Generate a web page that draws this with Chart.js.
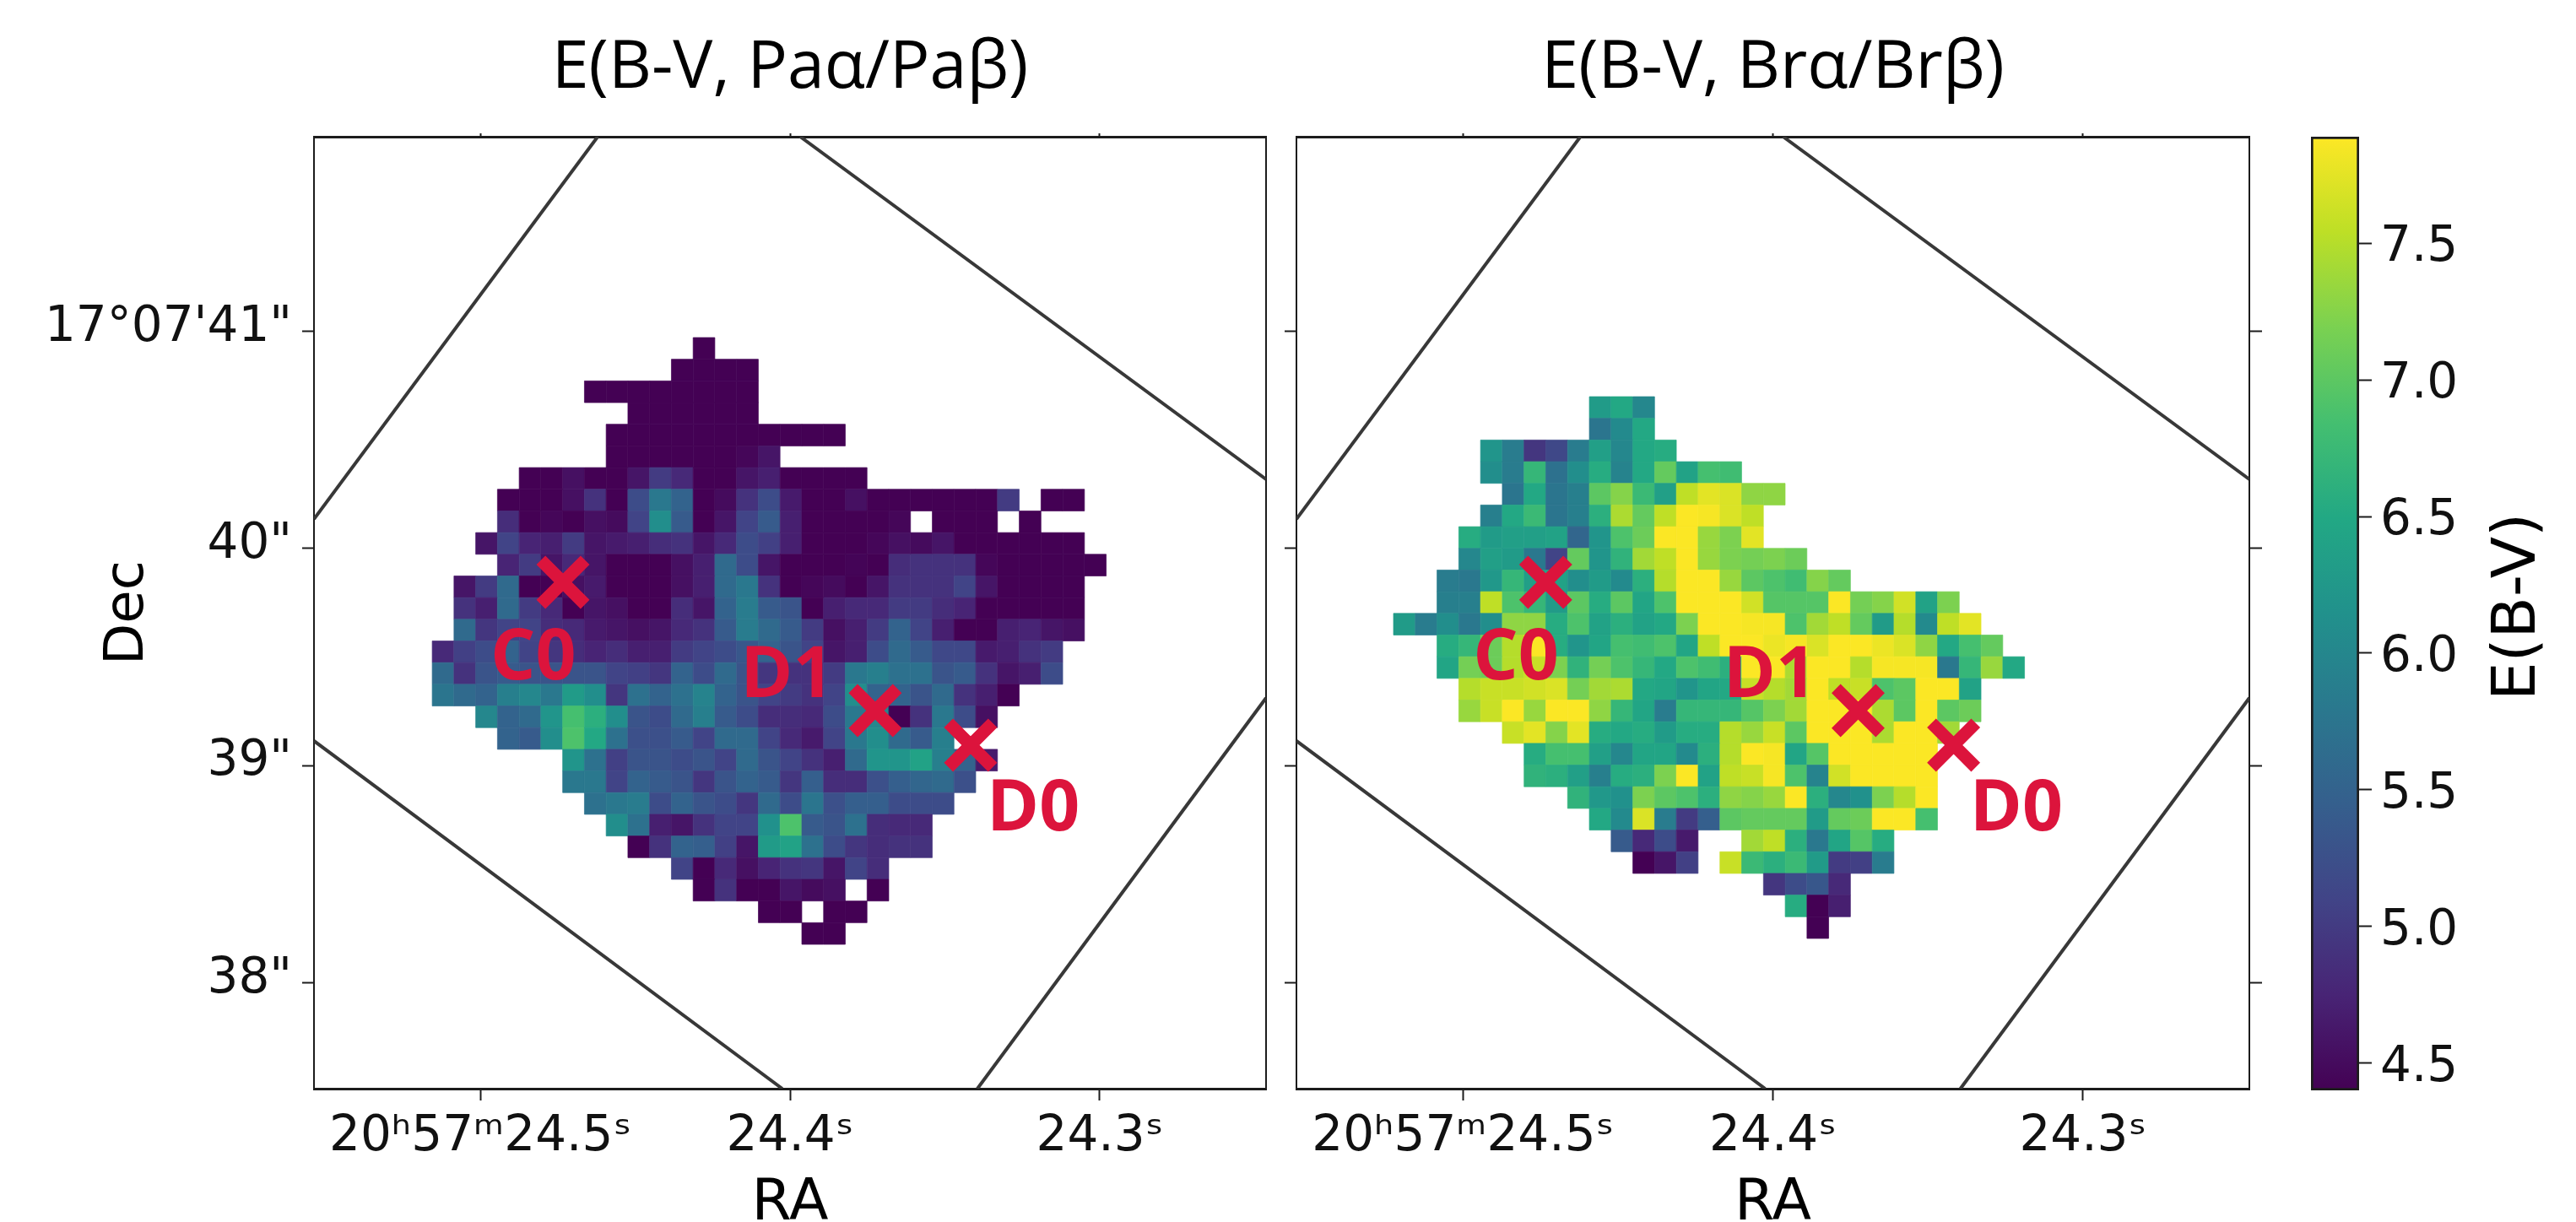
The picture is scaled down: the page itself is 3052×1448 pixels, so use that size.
<!DOCTYPE html>
<html>
<head>
<meta charset="utf-8">
<style>
html,body{margin:0;padding:0;background:#fff;}
#page{position:relative;width:3052px;height:1448px;overflow:hidden;background:#fff;}
canvas{position:absolute;top:0;}
</style>
<script src="https://cdn.jsdelivr.net/npm/chart.js@4/dist/chart.umd.js"></script>
</head>
<body>
<div id="page">
<canvas id="pa" width="1520" height="1448" style="left:0"></canvas>
<canvas id="br" width="1170" height="1448" style="left:1520px"></canvas>
<canvas id="cb" width="352" height="1448" style="left:2700px"></canvas>
</div>
<script>
// ---- axes ----
const raTicks = [24.5, 24.4, 24.3];
const raTickLabels = ['20ʰ57ᵐ24.5ˢ', '24.4ˢ', '24.3ˢ'];
const decTicks = [41, 40, 39, 38];
const decTickLabels = ['17°07\'41"', '40"', '39"', '38"'];
const raRange = [24.2463, 24.5537];
const decRange = [37.5126, 41.8966];
const cbarTicks = [4.5, 5, 5.5, 6, 6.5, 7, 7.5];
const cbarTickLabels = ['4.5', '5.0', '5.5', '6.0', '6.5', '7.0', '7.5'];
const cbarRange = [4.4, 7.89];

// ---- grid of the maps: one pixel on the sky ----
const raStep = 0.00702;
const decStep = 0.0998;
const paOrigin = [24.51553, 40.9716];
const brOrigin = [24.5224, 40.6995];

// ---- E(B-V, Pa alpha / Pa beta): first column of every row, then the row ----
const paStart = [12,11,7,9,8,8,4,3,3,2,3,1,1,1,0,0,0,2,3,6,6,7,8,9,11,12,15,17];
const paRows = [
[4.4],
[4.4,4.4,4.4,4.4],
[4.4,4.4,4.4,4.4,4.4,4.4,4.4,4.4],
[4.4,4.4,4.4,4.4,4.4,4.4],
[4.4,4.4,4.4,4.4,4.4,4.4,4.4,4.4,4.4,4.4,4.4],
[4.4,4.4,4.4,4.4,4.4,4.4,4.45,4.6],
[4.4,4.4,4.55,4.4,4.4,4.6,5.0,4.8,4.4,4.4,4.6,4.7,4.4,4.4,4.4,4.4],
[4.4,4.4,4.4,4.55,4.9,4.4,5.2,5.8,5.5,4.4,4.5,4.9,5.2,4.65,4.4,4.4,4.55,4.4,4.4,4.4,4.4,4.4,4.4,5.0,null,4.4,4.4],
[4.85,4.4,4.45,4.4,4.55,4.5,5.1,6.1,5.4,4.4,4.6,5.1,5.4,4.7,4.4,4.4,4.4,4.4,4.45,null,4.4,4.4,4.4,null,4.4],
[4.6,5.1,4.75,4.7,5.0,4.6,4.65,4.7,4.85,4.9,4.6,4.8,5.2,5.05,4.7,4.4,4.4,4.4,4.45,4.55,4.5,4.6,4.4,4.4,4.4,4.4,4.4,4.4],
[4.75,5.0,4.6,4.8,4.6,4.4,4.4,4.4,4.55,4.7,5.6,5.2,4.6,4.4,4.4,4.4,4.43,4.4,4.85,4.9,4.9,4.9,4.45,4.4,4.4,4.4,4.4,4.4],
[4.6,5.0,5.6,4.4,4.4,4.55,4.65,4.4,4.4,4.4,4.55,4.7,5.6,5.8,4.9,4.4,4.45,4.5,4.4,4.6,4.9,4.9,4.9,5.1,4.6,4.4,4.4,4.4,4.4],
[4.9,4.7,5.6,5.0,4.8,4.4,4.6,4.55,4.4,4.4,4.85,4.6,5.5,5.85,5.4,5.3,4.4,4.7,4.8,4.8,5.0,5.0,4.85,4.75,4.4,4.4,4.4,4.4,4.4],
[5.6,4.95,5.1,5.1,4.85,4.8,4.65,4.6,4.55,4.6,4.8,4.9,5.4,5.85,5.6,5.4,5.0,4.55,4.7,5.0,5.5,5.1,4.7,4.4,4.4,4.7,4.75,4.6,4.55],
[4.8,5.05,5.2,5.5,5.1,4.95,4.85,4.75,4.85,4.7,4.7,5.0,5.1,5.2,5.35,5.5,5.3,5.1,4.6,4.7,5.2,5.6,5.4,5.15,5.15,4.65,4.7,4.9,5.0],
[5.6,4.9,5.3,5.4,5.3,5.3,5.3,5.3,5.1,5.05,4.95,5.5,5.2,5.6,5.3,4.95,4.9,4.9,5.0,5.8,5.9,5.7,5.7,5.3,5.4,4.9,4.6,4.7,5.2],
[5.75,5.6,5.5,5.9,6.0,5.8,6.3,6.1,4.95,5.7,5.5,5.7,5.95,5.5,5.3,5.1,5.0,4.9,5.1,6.1,5.5,5.5,5.3,5.6,4.9,4.7,4.4],
[6.0,5.5,5.6,6.2,6.85,6.6,6.1,5.3,5.2,5.6,5.9,5.4,5.2,4.85,4.85,4.8,5.2,5.8,6.0,4.4,4.9,5.8,5.2,4.55],
[5.5,5.4,6.1,6.9,6.5,5.7,5.25,5.25,5.4,5.1,5.6,5.6,5.1,4.8,4.65,5.1,5.8,6.1,5.6,5.4,5.9],
[6.2,5.7,5.05,5.3,5.3,5.2,5.3,5.1,5.6,5.3,5.1,4.9,4.7,5.6,6.2,6.2,6.4,5.9,5.5,4.65],
[5.8,5.8,5.1,5.5,5.4,5.3,4.95,5.3,5.5,5.4,4.95,5.45,4.85,4.85,5.25,5.45,5.55,5.6,5.25],
[5.7,5.8,5.85,5.2,5.5,5.3,5.2,4.95,5.6,5.2,5.75,5.25,5.45,5.45,5.2,5.2,5.2],
[6.1,5.7,4.7,4.6,4.9,5.1,5.1,6.15,6.9,5.4,5.3,5.7,4.85,4.8,4.8],
[4.4,4.9,5.5,5.45,5.05,4.6,6.3,6.4,5.7,5.2,4.95,4.85,4.9,4.9],
[5.1,4.4,4.8,4.55,4.75,4.9,4.95,4.6,5.1,4.85],
[4.4,4.9,4.4,4.4,4.6,4.5,4.55,null,4.4],
[4.4,4.4,null,4.4,4.4],
[4.4,4.4]
];

// ---- E(B-V, Br alpha / Br beta) ----
const brStart = [9,9,4,4,5,4,3,3,2,2,0,2,2,3,3,5,6,6,8,9,10,11,17,18,19];
const brRows = [
[6.3,6.5,6.0],
[5.75,6.05,6.5],
[6.2,5.85,4.95,5.15,5.85,6.35,6.0,6.5,6.55],
[6.1,5.85,6.7,5.7,6.1,6.55,5.95,6.5,7.05,6.4,6.85,6.8],
[5.75,6.5,5.75,5.9,7.0,7.25,6.75,6.35,7.55,7.75,7.7,7.3,7.3],
[5.9,6.5,6.75,5.75,5.9,6.6,7.45,7.05,7.55,7.88,7.85,7.7,7.55],
[6.55,6.3,6.35,6.35,6.4,5.55,6.2,6.9,7.1,7.88,7.88,7.35,7.2,7.75],
[6.0,6.35,6.3,5.8,5.1,7.05,6.2,6.65,7.4,7.55,7.88,7.35,7.2,7.15,7.2,7.1],
[5.85,5.8,6.25,6.7,6.35,6.4,6.1,6.3,6.05,6.6,7.5,7.88,7.88,7.35,7.0,6.9,6.8,7.25,7.05],
[5.9,5.9,7.55,6.9,6.7,6.3,7.0,6.55,7.0,6.45,6.9,7.88,7.88,7.88,7.65,6.95,6.95,6.95,7.88,7.15,7.25,7.65,6.4,7.2],
[6.3,5.85,6.1,5.8,6.1,7.3,7.3,6.55,6.9,6.4,6.6,6.4,6.5,7.2,7.88,7.88,7.85,7.85,6.9,7.4,7.55,7.05,6.3,7.5,6.05,7.55,7.75],
[6.55,6.7,7.1,7.5,7.88,6.55,6.2,6.45,6.85,6.8,6.9,6.45,7.55,7.88,7.88,7.8,7.85,7.7,7.88,7.88,7.8,7.7,7.3,6.5,6.85,7.05],
[6.45,7.15,7.1,7.5,7.6,7.2,6.65,7.15,6.9,6.7,6.5,6.9,6.8,6.6,7.88,7.88,7.45,7.88,7.88,7.5,7.85,7.85,7.85,5.8,6.7,7.35,6.5],
[7.5,7.6,7.6,7.65,7.7,7.15,7.4,7.45,6.5,6.45,6.2,6.45,6.5,7.6,7.5,7.4,7.88,7.55,7.6,6.9,7.0,7.88,7.88,6.4],
[7.35,7.6,7.88,7.35,7.88,7.88,7.3,6.7,6.45,5.85,6.7,6.7,6.7,6.95,7.2,7.4,7.88,7.88,7.88,7.45,7.0,7.88,7.0,7.1],
[7.6,7.75,7.25,7.75,6.55,6.5,6.55,6.3,6.55,6.55,7.5,7.35,7.6,7.0,7.88,7.88,7.88,7.45,7.88,7.88,7.4],
[6.55,6.85,6.85,6.35,6.0,6.45,6.45,6.05,6.6,7.5,7.88,7.85,6.45,6.95,7.88,7.88,7.88,7.88,7.88],
[6.65,6.6,6.35,5.9,6.55,6.6,7.2,7.88,6.4,7.55,7.6,7.85,6.9,5.95,7.65,7.88,7.88,7.88,7.88],
[6.65,6.25,6.15,7.2,7.0,6.9,6.6,7.3,7.25,7.35,7.88,6.6,6.0,6.15,7.2,7.5,7.88],
[6.5,6.05,7.7,5.85,5.0,5.45,7.0,7.05,7.05,7.05,6.3,7.05,7.1,7.88,7.88,6.85],
[5.4,4.8,5.2,4.65,null,null,7.4,7.55,6.6,5.8,6.45,6.95,6.55],
[4.4,4.6,5.05,null,7.6,6.75,6.6,6.75,6.3,5.0,5.05,5.85],
[4.95,5.2,5.35,4.8],
[6.55,4.4,4.7],
[4.4]
];

// ---- footprint edges of the observation (RA seconds, Dec arcsec) ----
const edgeA = [{x:24.5537,y:40.136},{x:24.4621,y:41.8966}];
const edgeB = [{x:24.3967,y:41.8966},{x:24.2463,y:40.319}];
const edgeC = [{x:24.5537,y:39.114},{x:24.4025,y:37.5126}];
const edgeD = [{x:24.3395,y:37.5126},{x:24.2463,y:39.312}];

// ---- marked sources and their labels ----
const sources = [{x:24.4733,y:39.8446},{x:24.3725,y:39.2538},{x:24.3417,y:39.0945}];
const sourceLabels = ['C0', 'D1', 'D0'];
const sourceLabelPos = [{x:24.4829,y:39.49},{x:24.4010,y:39.41},{x:24.3215,y:38.795}];

const titles = ['E(B-V, Paα/Paβ)', 'E(B-V, Brα/Brβ)'];
const viridis = ['#440154','#482475','#414487','#355f8d','#2a788e','#21918c','#22a884','#44bf70','#7ad151','#bddf26','#fde725'];

const CRIMSON = '#dc143c';
const INK = '#1c1c1c';
const TICK_FONT = {family:'"DejaVu Sans"', size:58};

function hexRgb(h){return [1,3,5].map(i=>parseInt(h.substr(i,2),16));}
function colorFor(v){
  const t = Math.min(1,Math.max(0,(v-cbarRange[0])/(cbarRange[1]-cbarRange[0])))*(viridis.length-1);
  const i = Math.min(viridis.length-2,Math.floor(t)), f = t-i;
  const a = hexRgb(viridis[i]), b = hexRgb(viridis[i+1]);
  return 'rgb('+a.map((c,k)=>Math.round(c+(b[k]-c)*f)).join(',')+')';
}
function cellPoints(starts, rows, origin){
  const pts = [], cols = [];
  rows.forEach((row,r)=>row.forEach((v,i)=>{
    if(v===null) return;
    const c = starts[r]+i;
    pts.push({x:origin[0]-(c+0.5)*raStep, y:origin[1]-(r+0.5)*decStep});
    cols.push(colorFor(v));
  }));
  return {pts, cols};
}
const fixedTicks = (vals)=>(scale)=>{scale.ticks = vals.map(v=>({value:v}));};
const labelFrom = (vals,labs)=>(v)=>{const i = vals.indexOf(v); return i<0?'':labs[i];};
const noMargins = (s)=>{s.paddingLeft=0;s.paddingRight=0;s.paddingTop=0;s.paddingBottom=0;};

const sourceTextPlugin = {
  id:'sourceText',
  afterDatasetsDraw(chart){
    const {ctx, scales:{x,y}} = chart;
    ctx.save();
    ctx.fillStyle = CRIMSON;
    ctx.font = '700 84px "Open Sans"';
    ctx.textAlign = 'center';
    ctx.textBaseline = 'middle';
    sourceLabels.forEach((t,i)=>{
      ctx.fillText(t, x.getPixelForValue(sourceLabelPos[i].x), y.getPixelForValue(sourceLabelPos[i].y));
    });
    ctx.restore();
  }
};

function panel(id, title, starts, rows, origin, withLabels, leftWidth, rightWidth, rightTick){
  const cells = cellPoints(starts, rows, origin);
  const edge = (d)=>({type:'scatter', data:d, showLine:true, borderColor:'#383838', borderWidth:4, pointRadius:0, order:3});
  return new Chart(document.getElementById(id),{
    type:'scatter',
    data:{datasets:[
      {data:sources, pointStyle:'crossRot', pointRadius:37, pointBorderWidth:15, pointBorderColor:CRIMSON, pointBackgroundColor:CRIMSON, order:0},
      {data:cells.pts, pointStyle:'rect',
       pointRadius:(ctx)=>{const s=ctx.chart.scales.y; return Math.abs(s.getPixelForValue(0)-s.getPixelForValue(decStep))*Math.SQRT1_2;},
       pointBorderWidth:0.7, pointBackgroundColor:cells.cols, pointBorderColor:cells.cols, order:2},
      edge(edgeA), edge(edgeB), edge(edgeC), edge(edgeD)
    ]},
    plugins:[sourceTextPlugin],
    options:{
      responsive:false, animation:false, events:[], devicePixelRatio:1,
      layout:{padding:0, autoPadding:false},
      plugins:{
        legend:{display:false}, tooltip:{enabled:false},
        title:{display:true, text:title, fullSize:false, color:'#000',
               font:{family:'"Open Sans"', size:79, weight:'normal', lineHeight:1},
               padding:{top:42,bottom:37}}
      },
      scales:{
        x:{type:'linear', position:'bottom', reverse:true, min:raRange[0], max:raRange[1],
           afterBuildTicks:fixedTicks(raTicks),
           afterFit:(s)=>{s.height=158;noMargins(s);},
           border:{display:true,color:INK,width:3},
           grid:{drawOnChartArea:false,drawTicks:true,tickLength:14,tickWidth:2,tickColor:INK},
           ticks:{font:TICK_FONT,color:'#111',padding:9,maxRotation:0,autoSkip:false,
                  callback:labelFrom(raTicks,raTickLabels)},
           title:{display:true,text:'RA',color:'#000',font:{family:'"DejaVu Sans"',size:68,lineHeight:0.62},padding:0}},
        x2:{type:'linear', position:'top', reverse:true, min:raRange[0], max:raRange[1], display:true,
           afterBuildTicks:fixedTicks(raTicks),
           afterFit:(s)=>{s.height=4;noMargins(s);},
           border:{display:true,color:INK,width:3},
           grid:{drawOnChartArea:false,drawTicks:true,tickLength:4,tickWidth:2,tickColor:INK},
           ticks:{display:false}},
        y:{type:'linear', position:'left', min:decRange[0], max:decRange[1],
           afterBuildTicks:fixedTicks(decTicks),
           afterFit:(s)=>{s.width=leftWidth;noMargins(s);},
           border:{display:true,color:INK,width:2},
           grid:{drawOnChartArea:false,drawTicks:true,tickLength:14,tickWidth:2,tickColor:INK},
           ticks:{display:withLabels,font:TICK_FONT,color:'#111',padding:12,labelOffset:-4,autoSkip:false,
                  callback:labelFrom(decTicks,decTickLabels)},
           title:{display:withLabels,text:'Dec',color:'#000',font:{family:'"DejaVu Sans"',size:64,lineHeight:1},padding:{top:120}}},
        y2:{type:'linear', position:'right', min:decRange[0], max:decRange[1], display:true,
           afterBuildTicks:fixedTicks(decTicks),
           afterFit:(s)=>{s.width=rightWidth;noMargins(s);},
           border:{display:true,color:INK,width:2},
           grid:{drawOnChartArea:false,drawTicks:rightTick>0,tickLength:rightTick,tickWidth:2,tickColor:INK},
           ticks:{display:false}}
      }
    }
  });
}

panel('pa', titles[0], paStart, paRows, paOrigin, true, 372, 20, 0);
panel('br', titles[1], brStart, brRows, brOrigin, false, 16, 25, 15);

// ---- colour bar ----
const cbarTitle = 'E(B-V)';
const cbarTitlePlugin = {
  id:'cbarTitle',
  afterDraw(chart){
    const {ctx, scales:{y}} = chart;
    ctx.save();
    ctx.translate(284,(y.top+y.bottom)/2-8);
    ctx.rotate(-Math.PI/2);
    ctx.fillStyle='#000';
    ctx.font='72px "DejaVu Sans"';
    ctx.textAlign='center';
    ctx.textBaseline='middle';
    ctx.fillText(cbarTitle,0,0);
    ctx.restore();
  }
};
new Chart(document.getElementById('cb'),{
  type:'bar',
  data:{labels:['E(B-V)'],datasets:[{
    data:[cbarRange],
    barPercentage:1, categoryPercentage:1,
    borderWidth:3, borderColor:INK, borderSkipped:false,
    backgroundColor:(ctx)=>{
      const s = ctx.chart.scales.y;
      if(!s || !ctx.chart.chartArea) return viridis[5];
      const g = ctx.chart.ctx.createLinearGradient(0,s.getPixelForValue(cbarRange[0]),0,s.getPixelForValue(cbarRange[1]));
      viridis.forEach((c,i)=>g.addColorStop(i/(viridis.length-1),c));
      return g;
    }
  }]},
  plugins:[cbarTitlePlugin],
  options:{
    responsive:false, animation:false, events:[], devicePixelRatio:1,
    layout:{padding:{left:38,top:162,bottom:156}},
    plugins:{legend:{display:false},tooltip:{enabled:false}},
    scales:{
      x:{display:false},
      y:{position:'right',min:cbarRange[0],max:cbarRange[1],
         afterBuildTicks:fixedTicks(cbarTicks),
         afterFit:(s)=>{s.width=257;noMargins(s);},
         border:{display:false},
         grid:{drawOnChartArea:false,drawTicks:true,tickLength:15,tickWidth:2,tickColor:INK},
         ticks:{font:TICK_FONT,color:'#111',padding:10,labelOffset:6,autoSkip:false,callback:labelFrom(cbarTicks,cbarTickLabels)}}
    }
  }
});
</script>
</body>
</html>
